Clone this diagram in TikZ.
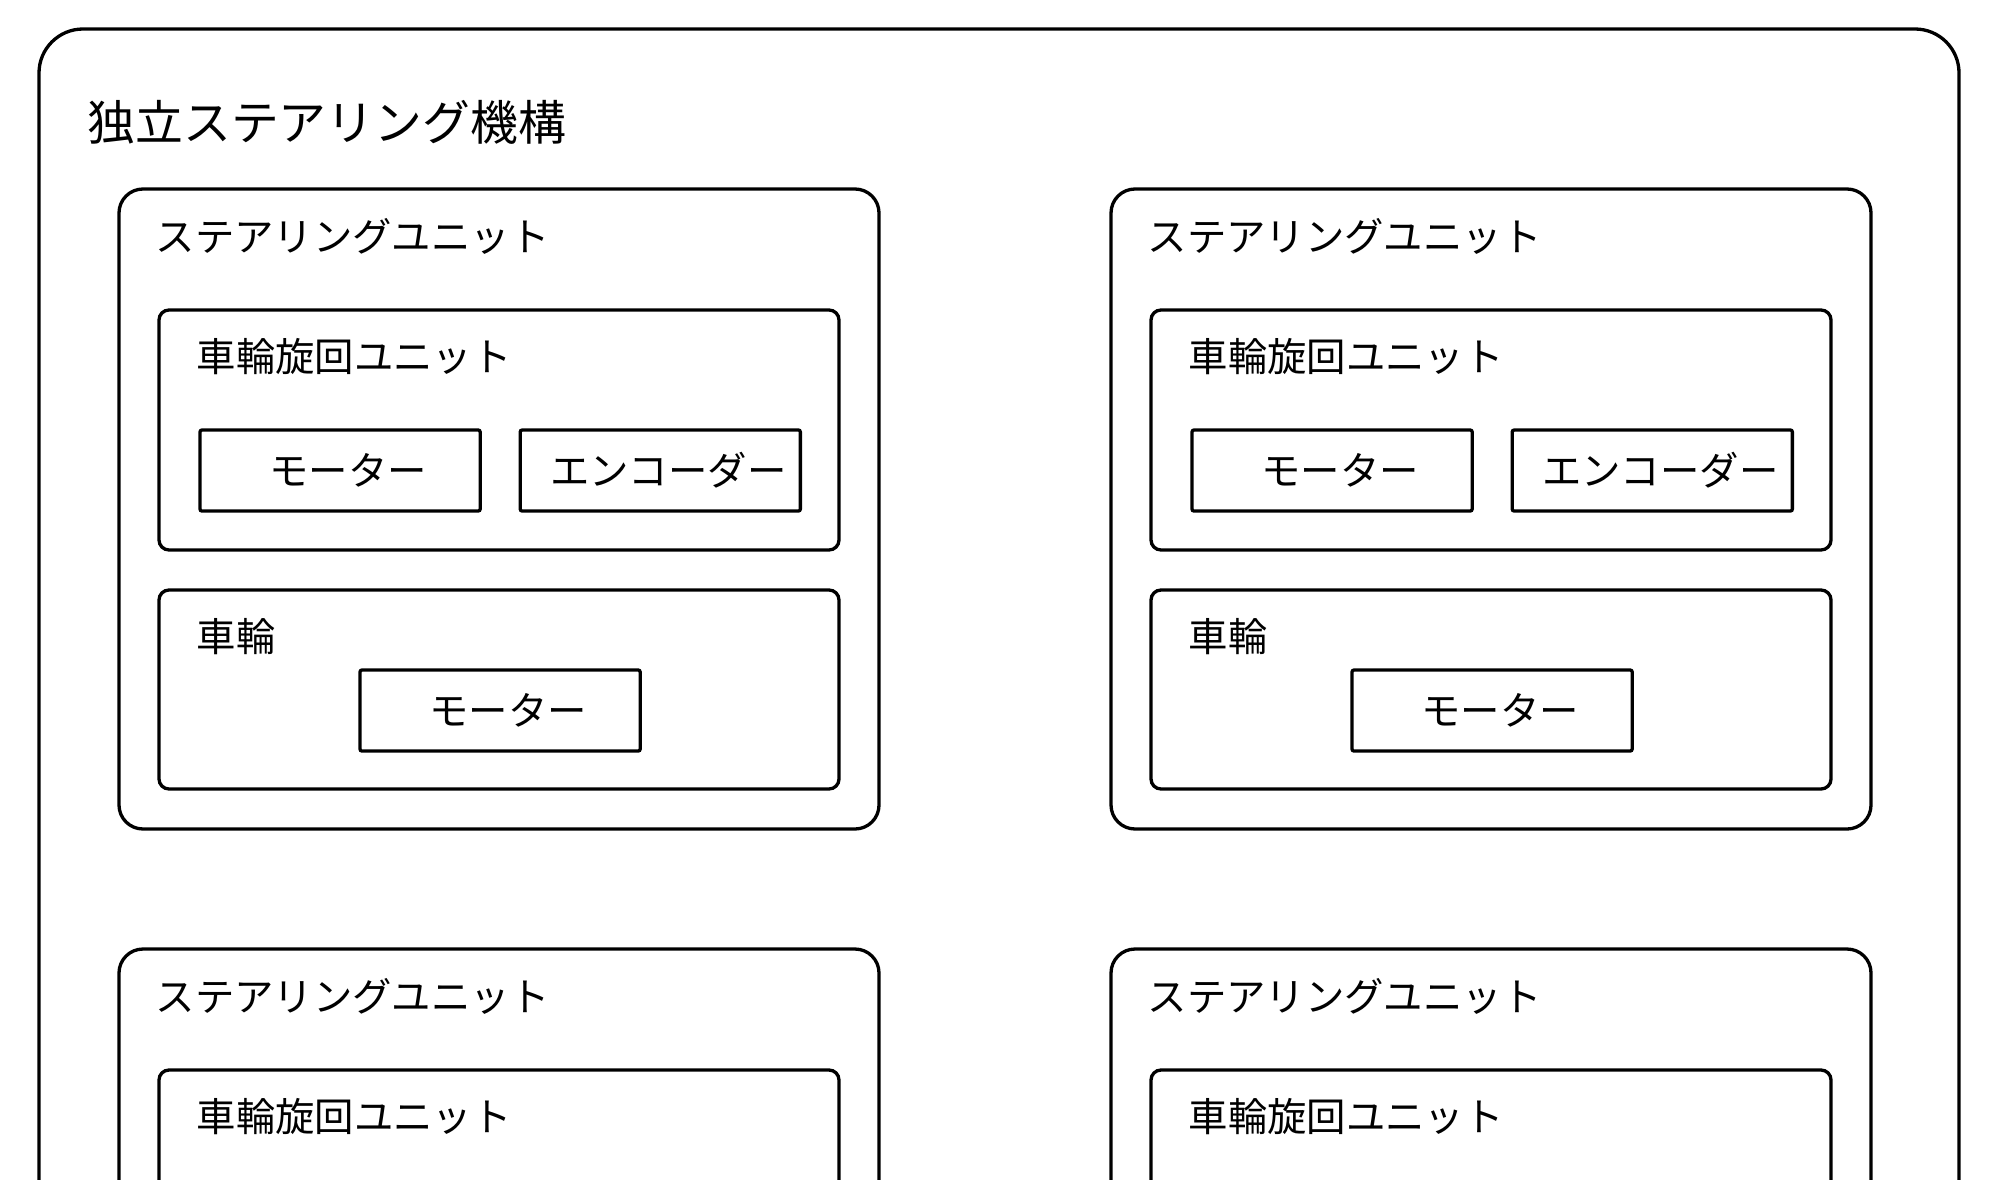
\documentclass[tikz,border=0pt]{standalone}
\usepackage{fontspec}
\setmainfont{Noto Sans CJK JP}
\usetikzlibrary{positioning}

\begin{document}
\begin{tikzpicture}[x=0.01cm,y=-0.01cm,line width=0.94pt,
  outerbox/.style={draw,rounded corners=0.44cm},
  unitbox/.style={draw,rounded corners=0.24cm},
  subbox/.style={draw,rounded corners=0.1cm},
  partbox/.style={draw,rounded corners=0.02cm,minimum width=2.8cm,minimum height=0.81cm,inner sep=0pt,outer sep=0pt,
    execute at begin node={\hspace*{0.16cm}},font=\fontsize{11.2}{13}\selectfont},
  lbl/.style={anchor=base west,inner sep=0pt,font=\fontsize{11.2}{13}\selectfont}]
\useasboundingbox (0,0) rectangle (1998,1179);
\clip (0,0) rectangle (1998,1179);
\draw[outerbox] (39,29) rectangle (1959,1300);
\node[lbl,font=\fontsize{13.6}{16}\selectfont] (title) at (86,140) {独立ステアリング機構};
\foreach \cx in {119,1111}{
  \begin{scope}[shift={(\cx,189)}]
  \draw[unitbox] (0,0) rectangle (760,640);
  \node[lbl] (unit\cx) at (35,62) {ステアリングユニット};
  \draw[subbox] (40,121) rectangle (720,361);
  \node[lbl] (turn\cx) at (76,182) {車輪旋回ユニット};
  \node[partbox,anchor=north west] (tmotor\cx) at (81,241) {モーター};
  \node[partbox,right=0.4cm of tmotor\cx] (enc\cx) {エンコーダー};
  \draw[subbox] (40,401) rectangle (720,600);
  \node[lbl] (wheel\cx) at (76,462) {車輪};
  \node[partbox,anchor=north west] (wmotor\cx) at (241,481) {モーター};
  \end{scope}
}
\foreach \cx in {119,1111}{
  \begin{scope}[shift={(\cx,949)}]
  \draw[unitbox] (0,0) rectangle (760,640);
  \node[lbl] (unitb\cx) at (35,62) {ステアリングユニット};
  \draw[subbox] (40,121) rectangle (720,361);
  \node[lbl] (turnb\cx) at (76,182) {車輪旋回ユニット};
  \end{scope}
}
\end{tikzpicture}
\end{document}
